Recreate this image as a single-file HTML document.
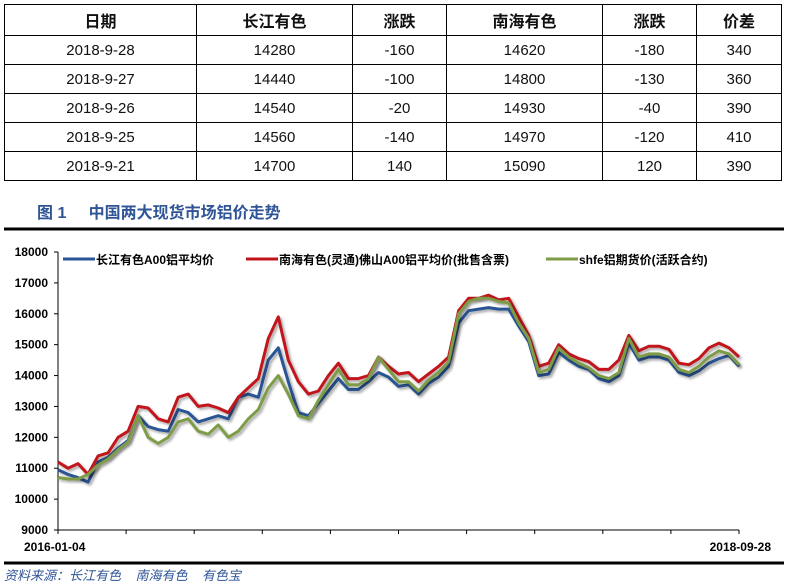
<!DOCTYPE html>
<html><head><meta charset="utf-8">
<style>
body{margin:0;width:788px;height:583px;background:#fff;position:relative;overflow:hidden;font-family:"Liberation Sans","Noto Sans CJK SC",sans-serif;}
table{position:absolute;left:4px;top:4px;border-collapse:collapse;width:778px;}
td,th{border:1px solid #000;text-align:center;font-size:15px;color:#111;padding:0;height:28px;}
th{height:30px;font-size:16px;font-weight:bold;}
#title{position:absolute;left:37px;top:199px;font-size:16px;font-weight:bold;color:#2f5597;}
#src{position:absolute;left:4px;top:565px;font-size:13px;font-style:italic;color:#2f5597;}
svg{position:absolute;left:0;top:0;}
</style></head><body>
<table>
<tr><th style="width:191px">日期</th><th style="width:155px">长江有色</th><th style="width:93px">涨跌</th><th style="width:155px">南海有色</th><th style="width:93px">涨跌</th><th>价差</th></tr>
<tr><td>2018-9-28</td><td>14280</td><td>-160</td><td>14620</td><td>-180</td><td>340</td></tr>
<tr><td>2018-9-27</td><td>14440</td><td>-100</td><td>14800</td><td>-130</td><td>360</td></tr>
<tr><td>2018-9-26</td><td>14540</td><td>-20</td><td>14930</td><td>-40</td><td>390</td></tr>
<tr><td>2018-9-25</td><td>14560</td><td>-140</td><td>14970</td><td>-120</td><td>410</td></tr>
<tr><td>2018-9-21</td><td>14700</td><td>140</td><td>15090</td><td>120</td><td>390</td></tr>
</table>
<div id="title">图 1&nbsp;&nbsp;&nbsp;&nbsp;&nbsp;中国两大现货市场铝价走势</div>
<div id="src">资料来源：长江有色&nbsp;&nbsp;&nbsp;&nbsp;南海有色&nbsp;&nbsp;&nbsp;&nbsp;有色宝</div>
<svg id="chart" width="788" height="583"></svg>
<script>
const yTicks=[9000,10000,11000,12000,13000,14000,15000,16000,17000,18000];
const xLabels=["2016-01-04","2018-09-28"];
const seriesNames=["长江有色A00铝平均价","南海有色(灵通)佛山A00铝平均价(批售含票)","shfe铝期货价(活跃合约)"];
const blue=[10950,10800,10700,10550,11200,11350,11650,11900,12700,12350,12250,12200,12900,12800,12500,12600,12700,12600,13300,13400,13300,14500,14900,13800,12800,12700,13100,13500,13900,13550,13550,13800,14100,13950,13650,13700,13400,13750,13950,14300,15700,16100,16150,16200,16150,16150,15600,15100,14000,14050,14750,14500,14300,14200,13900,13800,14000,15050,14500,14600,14600,14500,14100,14000,14150,14400,14550,14650,14300];
const red=[11200,11000,11150,10800,11400,11500,12000,12200,13000,12950,12600,12500,13300,13400,13000,13050,12950,12800,13300,13600,13900,15200,15900,14500,13800,13400,13500,14000,14400,13900,13900,14000,14600,14300,14050,14100,13800,14050,14300,14600,16100,16500,16500,16600,16450,16500,15900,15300,14300,14400,15000,14700,14550,14450,14200,14200,14500,15300,14800,14950,14950,14850,14400,14350,14550,14900,15050,14900,14600];
const green=[10700,10650,10650,10800,11100,11300,11600,11850,12700,12000,11800,12000,12500,12600,12200,12100,12400,12000,12200,12600,12900,13600,14000,13400,12700,12600,13200,13700,14200,13700,13700,13900,14600,14200,13800,13800,13500,13850,14100,14450,16000,16400,16500,16500,16400,16350,15700,15200,14100,14200,14900,14600,14400,14250,14000,13900,14100,15200,14600,14700,14700,14600,14200,14100,14300,14600,14800,14700,14350];
const svg=document.getElementById('chart');
const NS='http://www.w3.org/2000/svg';
const X0=58,X1=739,Y0=530,Y1=252;
const yS=v=>Y0-(v-9000)/(18000-9000)*(Y0-Y1);
const xS=i=>X0+i/(blue.length-1)*(X1-X0);
function mk(t,a){const e=document.createElementNS(NS,t);for(const k in a)e.setAttribute(k,a[k]);svg.appendChild(e);return e;}
const defs=mk('defs',{});
defs.innerHTML='<filter id="sh" x="-5%" y="-5%" width="110%" height="110%"><feDropShadow dx="2" dy="2" stdDeviation="1.2" flood-color="#000" flood-opacity="0.35"/></filter>';
let e;
e=mk('line',{x1:4,y1:229,x2:784,y2:229,stroke:'#000','stroke-width':3});

e=mk('line',{x1:4,y1:563,x2:784,y2:563,stroke:'#000','stroke-width':3});

e=mk('line',{x1:X0,y1:Y1,x2:X0,y2:Y0,stroke:'#000','stroke-width':1});

e=mk('line',{x1:X0,y1:Y0,x2:X1,y2:Y0,stroke:'#000','stroke-width':1});

yTicks.forEach(v=>{
 const y=yS(v);
 e=mk('line',{x1:X0-4,y1:y,x2:X0,y2:y,stroke:'#000'});
 
 e=mk('text',{x:X0-10,y:y+4,'text-anchor':'end','font-size':12,'font-weight':'bold','font-family':'Liberation Sans'});
 e.textContent=v;
 
});
for(let k=0;k<=10;k++){
 const x=X0+k*(X1-X0)/10;
 e=mk('line',{x1:x,y1:Y0,x2:x,y2:Y0+4,stroke:'#000'});
 
}
e=mk('text',{x:24,y:551,'font-size':12,'font-weight':'bold'});e.textContent=xLabels[0];

e=mk('text',{x:771,y:551,'text-anchor':'end','font-size':12,'font-weight':'bold'});e.textContent=xLabels[1];

const cols=['#2a5594','#c0141c','#7e9c46'];
[blue,red,green].forEach((s,j)=>{
 const d=s.map((v,i)=>(i?'L':'M')+xS(i).toFixed(1)+' '+yS(v).toFixed(1)).join('');
 e=mk('path',{d:d,fill:'none',stroke:cols[j],'stroke-width':3,'stroke-linejoin':'round',filter:'url(#sh)'});
 
});
const leg=[[63,seriesNames[0]],[246,seriesNames[1]],[546,seriesNames[2]]];
leg.forEach((l,j)=>{
 e=mk('line',{x1:l[0],y1:259,x2:l[0]+32,y2:259,stroke:cols[j],'stroke-width':3});
 
 e=mk('text',{x:l[0]+33,y:264,'font-size':12,'font-weight':'bold','font-family':'Liberation Sans, Noto Sans CJK SC, sans-serif'});
 e.textContent=l[1];
 
});
</script>
</body></html>
